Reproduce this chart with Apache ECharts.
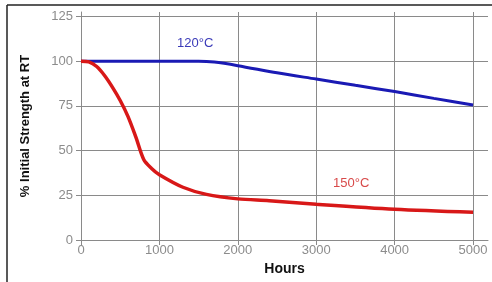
<!DOCTYPE html>
<html>
<head>
<meta charset="utf-8">
<script src="https://cdn.jsdelivr.net/npm/echarts@6/dist/echarts.min.js"></script>
<style>
  html, body { margin: 0; padding: 0; background: #fff; }
  #chart { width: 492px; height: 282px; }
</style>
</head>
<body>
<div id="chart"></div>
<script>
// tick values shown on the axes
const xTicks = [0, 1000, 2000, 3000, 4000, 5000];
const yTicks = [0, 25, 50, 75, 100, 125];

// 120°C curve [hours, % strength]
const hours120 = [0, 500, 1000, 1500, 1700, 2000, 2500, 3000, 3500, 4000, 4500, 5000];
const strength120 = [100, 100, 100, 100, 99.5, 97.5, 93.5, 90, 86.5, 83, 79.2, 75.5];

// 150°C curve
const hours150 = [0, 100, 200, 300, 400, 500, 600, 700, 800, 900, 1000, 1300, 1600, 2000, 2400, 3000, 4000, 5000];
const strength150 = [100, 99.6, 97, 92, 85.5, 78, 69, 57.5, 45, 40, 36.5, 29.5, 25.5, 23, 22, 20, 17.2, 15.5];

const pairs = (xs, ys) => xs.map((x, i) => [x, ys[i]]);

const gridColor = '#8a8a8a';
const chart = echarts.init(document.getElementById('chart'), null, { renderer: 'canvas' });

chart.setOption({
  animation: false,
  grid: { left: 81, right: 4, top: 12, bottom: 42, containLabel: false },
  xAxis: {
    type: 'value',
    min: 0,
    max: 5191,
    axisLine: { show: true, lineStyle: { color: gridColor, width: 1 } },
    axisTick: { show: true, length: 5, customValues: xTicks, lineStyle: { color: gridColor } },
    axisLabel: {
      customValues: xTicks,
      formatter: v => String(v),
      color: '#8c8c8c',
      fontFamily: 'Liberation Sans',
      fontSize: 13,
      margin: 4
    },
    splitLine: { show: true, lineStyle: { color: gridColor, width: 1 } },
    name: 'Hours',
    nameLocation: 'middle',
    nameGap: 21,
    nameTextStyle: { color: '#111', fontWeight: 'bold', fontSize: 14, fontFamily: 'Liberation Sans' }
  },
  yAxis: {
    type: 'value',
    min: 0,
    max: 127.5,
    axisLine: { show: true, lineStyle: { color: gridColor, width: 1 } },
    axisTick: { show: true, length: 5, customValues: yTicks, lineStyle: { color: gridColor } },
    axisLabel: {
      customValues: yTicks,
      color: '#8c8c8c',
      fontFamily: 'Liberation Sans',
      fontSize: 13,
      margin: 8
    },
    splitLine: { show: true, lineStyle: { color: gridColor, width: 1 } },
    name: '% Initial Strength at RT',
    nameLocation: 'middle',
    nameGap: 49,
    nameTextStyle: { color: '#111', fontWeight: 'bold', fontSize: 13, fontFamily: 'Liberation Sans' }
  },
  graphic: [
    { type: 'line', shape: { x1: 7, y1: 5, x2: 492, y2: 5 }, style: { stroke: '#222', lineWidth: 1.5 } },
    { type: 'line', shape: { x1: 7, y1: 5, x2: 7, y2: 282 }, style: { stroke: '#222', lineWidth: 1.5 } },
    {
      type: 'text', left: 177, top: 37,
      style: { text: '120°C', fill: '#3a3ab8', font: '13px "Liberation Sans"' }
    },
    {
      type: 'text', left: 333, top: 177,
      style: { text: '150°C', fill: '#d84a4a', font: '13px "Liberation Sans"' }
    }
  ],
  series: [
    {
      name: '120°C',
      type: 'line',
      data: pairs(hours120, strength120),
      showSymbol: false,
      smooth: 0.3,
      lineStyle: { color: '#1a1ab4', width: 3 },
      z: 3
    },
    {
      name: '150°C',
      type: 'line',
      data: pairs(hours150, strength150),
      showSymbol: false,
      smooth: 0.3,
      lineStyle: { color: '#d81818', width: 3.5 },
      z: 4
    }
  ]
});
</script>
</body>
</html>
